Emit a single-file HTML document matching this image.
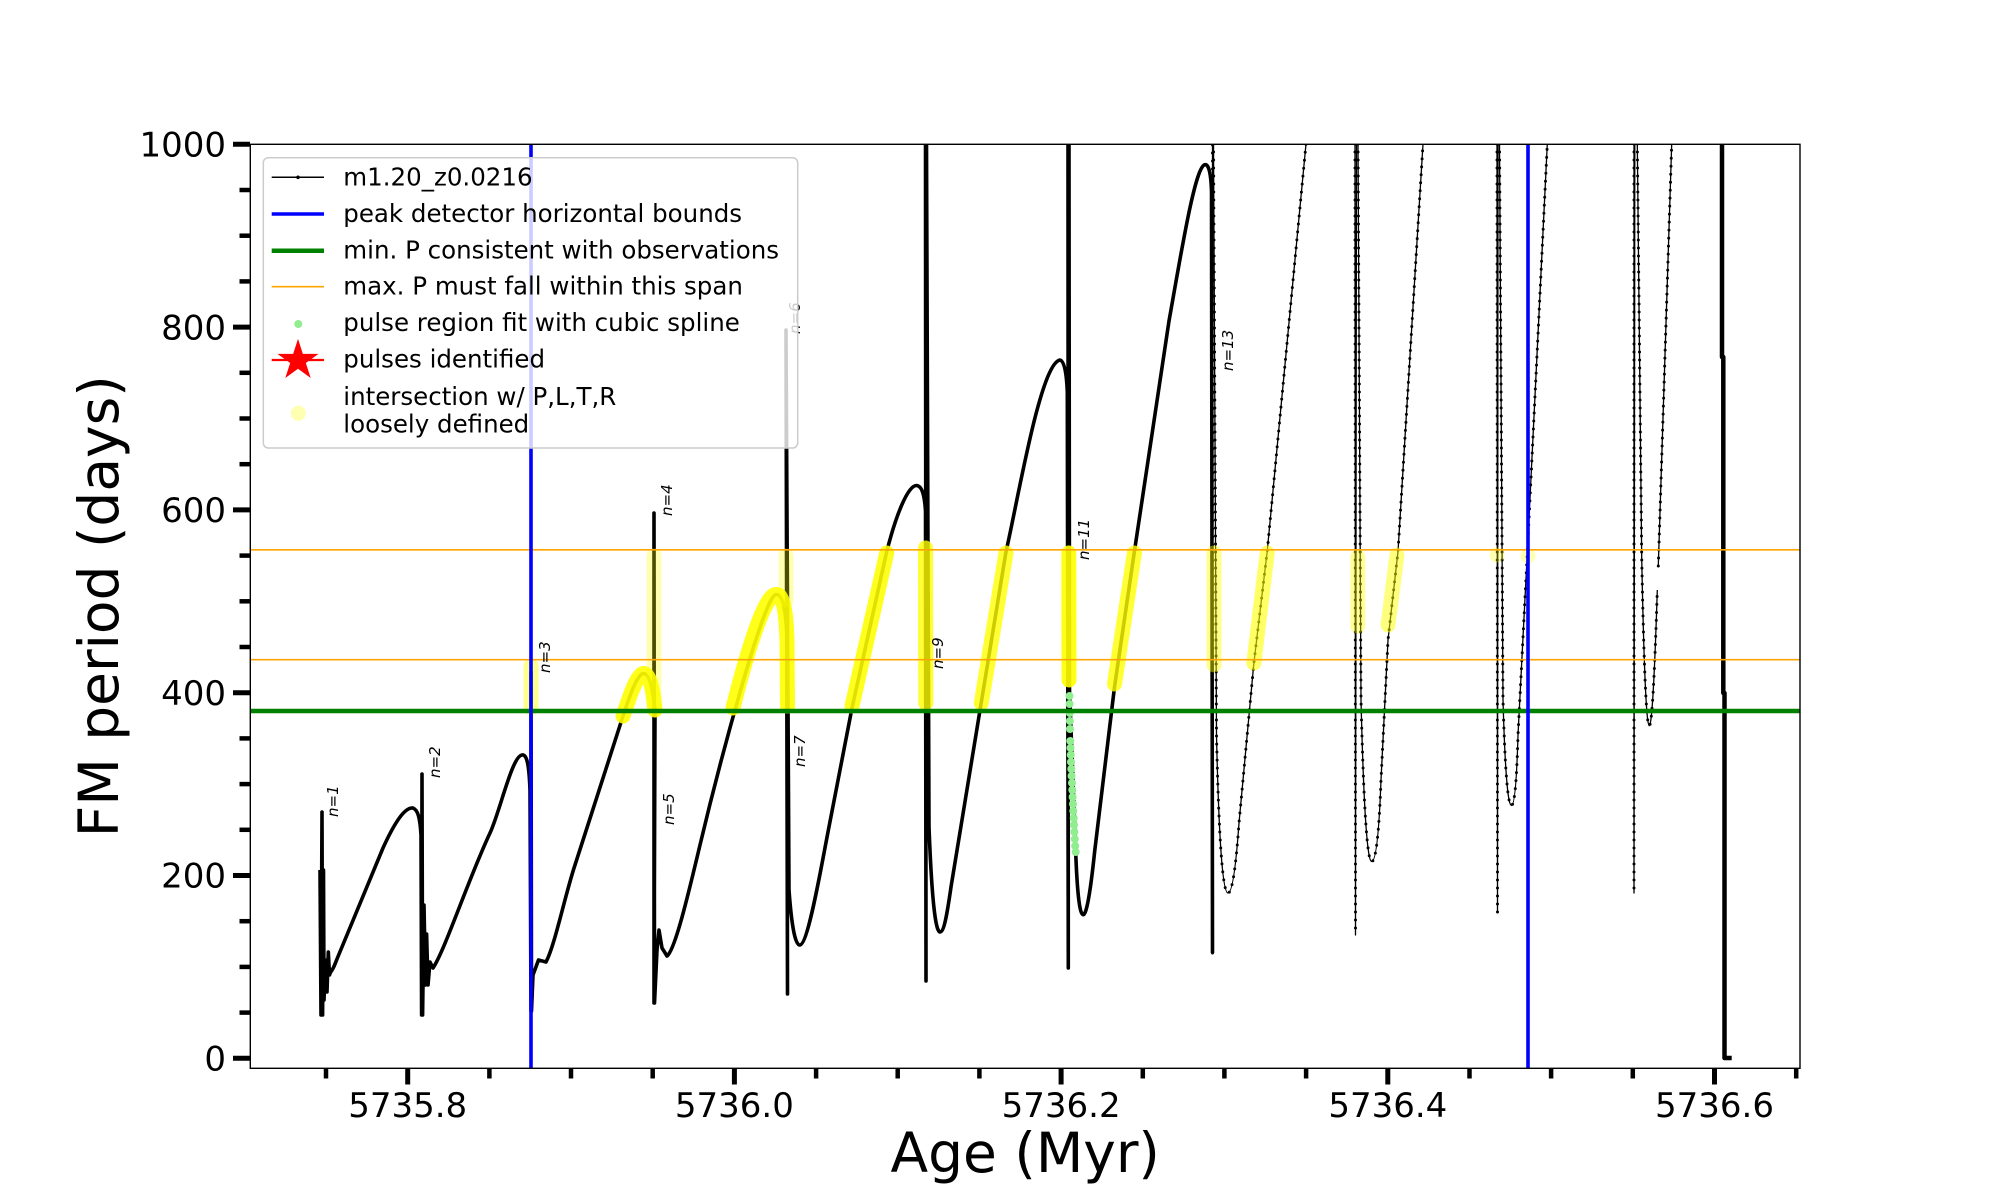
<!DOCTYPE html>
<html>
<head>
<meta charset="utf-8">
<style>
html,body{margin:0;padding:0;background:#fff;}
svg{display:block;}
text{font-family:"DejaVu Sans","Liberation Sans",sans-serif;}
</style>
</head>
<body>
<svg width="2000" height="1200" viewBox="0 0 2000 1200" xmlns="http://www.w3.org/2000/svg">
<defs>
<clipPath id="ax"><rect x="250.3" y="144.3" width="1549.7" height="924"/></clipPath>
</defs>
<rect width="2000" height="1200" fill="#fff"/>

<g clip-path="url(#ax)">
<!-- main dense curve -->
<path fill="none" stroke="#000" stroke-width="3.6" stroke-linejoin="round" d="M 320,870 L 321,1015 L 322,812 L 322.6,1015 L 323.5,870 L 324,1000 L 325.5,960 L 327,992 L 328.3,952 L 329.5,975 L 330.6,972 C 333,970 335,964 337,959 L 383,848 C 393,826 404,807 413,808 C 418,810 420,818 421,835 L 421.6,1015 L 422,774 L 422.6,1015 L 424,905 L 425.5,985 L 426.6,934 L 428,985 L 430,962 L 433,968 C 445,950 468,880 490,833 C 500,811.6 512,756 522,755 C 527,754 529,765 530,790 L 531,1011 L 531,672 L 531.5,1011 L 533,975 L 538.5,960 L 546,962 C 555,945 565,895 575,865 L 623,716 C 630,695 637,675 643,673.5 C 650,673 653,690 655,712 L 654,1003 L 654,513 L 654.5,1003 L 657,950 L 659,930 L 662,948 L 667,956 C 675,950 688,895.6 700,845 C 718,769.4 764,594 776,594.5 C 783,594 786,610 787,640 L 787.5,994 L 786,330 L 789,890 Q 793,945 799.7,945 C 808,945 821,868 828,832 L 852,708 L 886.7,551.7 C 896,515 908,485 916.6,485.5 C 922,486 924.5,495 925.5,511 L 926,981 L 925.5,144 L 926.5,144 L 929,827 Q 933,932 940,932 C 944,932 947,915 951,887 L 1006,551.7 C 1018,500 1040,365 1059.8,360 C 1064,360 1066.5,372 1067.3,392 L 1068.3,968 L 1068,144 L 1069,144 L 1069.5,690 L 1075.7,852 Q 1078,915 1083.2,914.7 Q 1088,915 1094.6,852 L 1114.5,687 L 1134.4,551.5 L 1169,321 C 1180,260 1195,165 1205,164.7 C 1209,164 1211,175 1211.5,191 L 1212.5,953"/>

<!-- thinner dotted right-hand part -->
<g fill="none" stroke="#000" stroke-linejoin="round">
<path stroke-width="1.3" d="M 1212.5,953 L 1212.5,144 M 1213.5,144 L 1216.5,735 Q 1220,893 1228,893 Q 1234,893 1239,823 L 1253.8,663.7 L 1267.2,551.5 L 1306,144
M 1355,144 L 1355.5,935 L 1356.5,144 M 1358,144 L 1361,700 Q 1365,862 1371.7,861.5 Q 1378,861 1381,780 L 1388,640 L 1398,551.5 L 1423,144
M 1497,144 L 1497.5,912 L 1498,144 M 1499.5,144 L 1503,700 Q 1506,806 1511.5,805.4 Q 1516,805 1518,735 L 1527.4,551.5 L 1547.3,144
M 1634,144 L 1634,893 L 1634.8,144 M 1637.3,144 L 1641.7,557 Q 1645,726 1649.3,725.7 Q 1653,726 1657.3,590 M 1658.3,566 L 1671.7,144"/>
<path stroke-width="3" stroke-linecap="round" stroke-dasharray="0 8" d="M 1212.5,953 L 1212.5,144 M 1213.5,144 L 1216.5,735 Q 1220,893 1228,893 Q 1234,893 1239,823 L 1253.8,663.7 L 1267.2,551.5 L 1306,144
M 1355,144 L 1355.5,935 M 1358,144 L 1361,700 Q 1365,862 1371.7,861.5 Q 1378,861 1381,780 L 1388,640 L 1398,551.5 L 1423,144
M 1497,144 L 1497.5,912 M 1499.5,144 L 1503,700 Q 1506,806 1511.5,805.4 Q 1516,805 1518,735 L 1527.4,551.5 L 1547.3,144
M 1634,144 L 1634,893 M 1637.3,144 L 1641.7,557 Q 1645,726 1649.3,725.7 Q 1653,726 1657.3,590 M 1658.3,566 L 1671.7,144"/>
<path stroke-width="4.5" d="M 1722,144 L 1722,357 L 1723.3,357 L 1723.3,693 L 1724.5,693 L 1724.5,1058 L 1731.7,1058"/>
</g>

<!-- yellow intersection markers -->
<g fill="none" stroke="#ffff00" stroke-width="15" stroke-linecap="round" stroke-linejoin="round">
<path opacity="0.9" d="M 623,716 C 630,695 637,675 643,673.5 C 650,673 653,690 655,710"/>
<path opacity="0.9" d="M 733,708 C 745,660 764,594 776,594.5 C 783,594 786,610 787,640 L 787.5,706"/>
<path opacity="0.88" d="M 852,706 L 886.7,553"/>
<path opacity="0.8" d="M 925.5,548 L 925.8,703"/>
<path opacity="0.8" d="M 981.3,703 L 1006,553"/>
<path opacity="0.9" d="M 1068.8,553 L 1069,680"/>
<path opacity="0.8" d="M 1114.5,684 L 1134.4,553"/>
<path opacity="0.45" d="M 1214,553 L 1214,665"/>
<path opacity="0.6" d="M 1253.8,663 L 1267.2,553"/>
<path opacity="0.5" d="M 1388,625 L 1397,555"/>
<path opacity="0.4" d="M 1357.8,557 L 1357.8,626"/>
<path opacity="0.45" d="M 531,666 L 531,708"/>
<path opacity="0.3" d="M 654,556 L 654,705"/>
<path opacity="0.3" d="M 786,556 L 786,600"/>
</g>
<g fill="#ffff00" opacity="0.3">
<circle cx="1497" cy="555" r="7.5"/><circle cx="1528" cy="556" r="7.5"/>
</g>

<!-- green spline dots -->
<g fill="#90ee90">
<circle cx="1069.5" cy="696" r="4"/><circle cx="1069.6" cy="704" r="4"/><circle cx="1069.8" cy="713" r="4"/><circle cx="1069.9" cy="721" r="4"/><circle cx="1070" cy="729" r="4"/><circle cx="1070.3" cy="741" r="4"/><circle cx="1070.5" cy="748" r="4"/><circle cx="1070.8" cy="755" r="4"/><circle cx="1071" cy="762" r="4"/><circle cx="1071.3" cy="769" r="4"/><circle cx="1071.6" cy="776" r="4"/><circle cx="1072" cy="783" r="4"/><circle cx="1072.3" cy="790" r="4"/><circle cx="1072.6" cy="797" r="4"/><circle cx="1073" cy="804" r="4"/><circle cx="1073.3" cy="811" r="4"/><circle cx="1073.7" cy="818" r="4"/><circle cx="1074" cy="825" r="4"/><circle cx="1074.4" cy="832" r="4"/><circle cx="1074.8" cy="839" r="4"/><circle cx="1075.2" cy="846" r="4"/><circle cx="1075.7" cy="852" r="4"/>
</g>

<!-- reference lines -->
<line x1="250" y1="711" x2="1800" y2="711" stroke="#008000" stroke-width="4.5"/>
<line x1="250" y1="549.8" x2="1800" y2="549.8" stroke="#ffa500" stroke-width="1.7"/>
<line x1="250" y1="659.7" x2="1800" y2="659.7" stroke="#ffa500" stroke-width="1.7"/>
<line x1="531" y1="144" x2="531" y2="1069" stroke="#0000ff" stroke-width="3.6"/>
<line x1="1528" y1="144" x2="1528" y2="1069" stroke="#0000ff" stroke-width="3.6"/>

<!-- n labels -->
<g font-size="15" font-style="italic" fill="#000">
<text transform="translate(338,817) rotate(-90)">n=1</text>
<text transform="translate(440,778) rotate(-90)">n=2</text>
<text transform="translate(550,673) rotate(-90)">n=3</text>
<text transform="translate(672,516) rotate(-90)">n=4</text>
<text transform="translate(674,825) rotate(-90)">n=5</text>
<text transform="translate(800,334) rotate(-90)">n=6</text>
<text transform="translate(805,767) rotate(-90)">n=7</text>
<text transform="translate(943,669) rotate(-90)">n=9</text>
<text transform="translate(1089,560) rotate(-90)">n=11</text>
<text transform="translate(1233,371) rotate(-90)">n=13</text>
</g>
</g>

<!-- axes frame -->
<rect x="250.3" y="144.3" width="1549.7" height="924" fill="none" stroke="#000" stroke-width="1.4"/>

<!-- y ticks -->
<g stroke="#000" stroke-width="5">
<line x1="233" y1="1058.3" x2="250" y2="1058.3"/><line x1="233" y1="875.5" x2="250" y2="875.5"/><line x1="233" y1="692.7" x2="250" y2="692.7"/><line x1="233" y1="509.9" x2="250" y2="509.9"/><line x1="233" y1="327.1" x2="250" y2="327.1"/><line x1="233" y1="144.3" x2="250" y2="144.3"/>
</g>
<g stroke="#000" stroke-width="4.5">
<line x1="239.5" y1="1012.6" x2="250" y2="1012.6"/><line x1="239.5" y1="966.9" x2="250" y2="966.9"/><line x1="239.5" y1="921.2" x2="250" y2="921.2"/><line x1="239.5" y1="829.8" x2="250" y2="829.8"/><line x1="239.5" y1="784.1" x2="250" y2="784.1"/><line x1="239.5" y1="738.4" x2="250" y2="738.4"/><line x1="239.5" y1="647" x2="250" y2="647"/><line x1="239.5" y1="601.3" x2="250" y2="601.3"/><line x1="239.5" y1="555.6" x2="250" y2="555.6"/><line x1="239.5" y1="464.2" x2="250" y2="464.2"/><line x1="239.5" y1="418.5" x2="250" y2="418.5"/><line x1="239.5" y1="372.8" x2="250" y2="372.8"/><line x1="239.5" y1="281.4" x2="250" y2="281.4"/><line x1="239.5" y1="235.7" x2="250" y2="235.7"/><line x1="239.5" y1="190" x2="250" y2="190"/>
</g>
<g font-size="34" text-anchor="end" fill="#000">
<text x="226" y="1070.5">0</text>
<text x="226" y="887.7">200</text>
<text x="226" y="704.9">400</text>
<text x="226" y="522.1">600</text>
<text x="226" y="339.3">800</text>
<text x="226" y="156.5">1000</text>
</g>

<!-- x ticks -->
<g stroke="#000" stroke-width="5">
<line x1="407.7" y1="1068" x2="407.7" y2="1084.5"/><line x1="734.4" y1="1068" x2="734.4" y2="1084.5"/><line x1="1061.1" y1="1068" x2="1061.1" y2="1084.5"/><line x1="1387.8" y1="1068" x2="1387.8" y2="1084.5"/><line x1="1714.5" y1="1068" x2="1714.5" y2="1084.5"/>
</g>
<g stroke="#000" stroke-width="4.5">
<line x1="326" y1="1068" x2="326" y2="1078.5"/><line x1="489.4" y1="1068" x2="489.4" y2="1078.5"/><line x1="571" y1="1068" x2="571" y2="1078.5"/><line x1="652.7" y1="1068" x2="652.7" y2="1078.5"/><line x1="816.1" y1="1068" x2="816.1" y2="1078.5"/><line x1="897.7" y1="1068" x2="897.7" y2="1078.5"/><line x1="979.4" y1="1068" x2="979.4" y2="1078.5"/><line x1="1142.8" y1="1068" x2="1142.8" y2="1078.5"/><line x1="1224.4" y1="1068" x2="1224.4" y2="1078.5"/><line x1="1306.1" y1="1068" x2="1306.1" y2="1078.5"/><line x1="1469.5" y1="1068" x2="1469.5" y2="1078.5"/><line x1="1551.1" y1="1068" x2="1551.1" y2="1078.5"/><line x1="1632.8" y1="1068" x2="1632.8" y2="1078.5"/><line x1="1796.2" y1="1068" x2="1796.2" y2="1078.5"/>
</g>
<g font-size="34" text-anchor="middle" fill="#000">
<text x="407.7" y="1117">5735.8</text>
<text x="734.4" y="1117">5736.0</text>
<text x="1061.1" y="1117">5736.2</text>
<text x="1387.8" y="1117">5736.4</text>
<text x="1714.5" y="1117">5736.6</text>
</g>

<!-- axis titles -->
<text x="1025.2" y="1172" font-size="55" text-anchor="middle" fill="#000">Age (Myr)</text>
<text transform="translate(118,606.3) rotate(-90)" font-size="55" text-anchor="middle" fill="#000">FM period (days)</text>

<!-- legend -->
<rect x="263.3" y="157.7" width="534.4" height="290.3" rx="5" ry="5" fill="#fff" fill-opacity="0.8" stroke="#cccccc" stroke-width="1.5"/>
<line x1="271.7" y1="177.3" x2="324" y2="177.3" stroke="#000" stroke-width="1.5"/>
<circle cx="298" cy="177.3" r="1.8" fill="#000"/>
<line x1="271.7" y1="214" x2="324" y2="214" stroke="#0000ff" stroke-width="3.6"/>
<line x1="271.7" y1="250.7" x2="324" y2="250.7" stroke="#008000" stroke-width="4.5"/>
<line x1="271.7" y1="286.7" x2="324" y2="286.7" stroke="#ffa500" stroke-width="1.7"/>
<circle cx="298.3" cy="324" r="4" fill="#90ee90"/>
<line x1="271.7" y1="360" x2="324" y2="360" stroke="#ff0000" stroke-width="2.2"/>
<polygon fill="#ff0000" points="298,338.9 302.85,353.83 318.54,353.83 305.85,363.05 310.7,377.97 298,368.75 285.3,377.97 290.15,363.05 277.46,353.83 293.15,353.83"/>
<circle cx="298.3" cy="413.3" r="7.5" fill="#ffff00" fill-opacity="0.3"/>
<g font-size="24.5" fill="#000">
<text x="343.3" y="185.7">m1.20_z0.0216</text>
<text x="343.3" y="222">peak detector horizontal bounds</text>
<text x="343.3" y="258.3">min. P consistent with observations</text>
<text x="343.3" y="294.6">max. P must fall within this span</text>
<text x="343.3" y="330.9">pulse region fit with cubic spline</text>
<text x="343.3" y="367.5">pulses identified</text>
<text x="343.3" y="405">intersection w/ P,L,T,R</text>
<text x="343.3" y="432.7">loosely defined</text>
</g>
</svg>
</body>
</html>
